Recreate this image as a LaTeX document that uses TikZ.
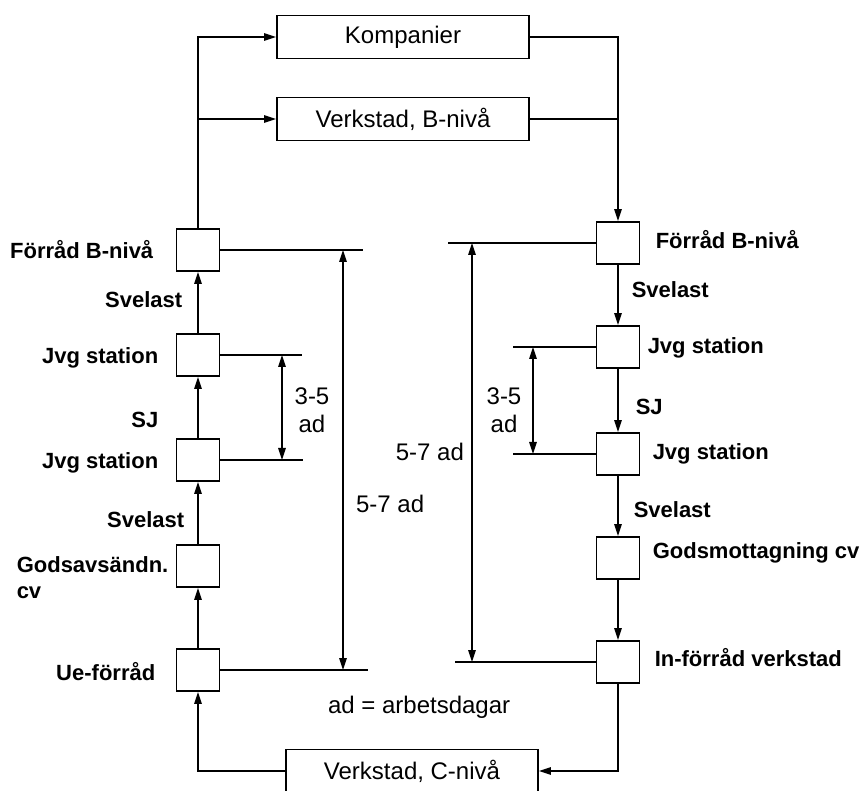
\documentclass[tikz,border=0pt]{standalone}
\usepackage{fontspec}
\setmainfont{Liberation Sans}
\usetikzlibrary{arrows.meta,positioning,calc}

\begin{document}
\begin{tikzpicture}[
  x=1pt,y=-1pt,
  >={Triangle[length=12pt,width=7.5pt]},
  line width=1.5pt,
  every node/.style={font=\fontsize{24}{28}\selectfont},
  unit/.style ={draw,line width=1.9pt,minimum width=252pt,minimum height=43pt,
                inner sep=0pt},
  stock/.style={draw,line width=1.9pt,minimum width=43pt,minimum height=42pt,
                inner sep=0pt},
  lbl/.style  ={font=\fontsize{22}{26}\selectfont\bfseries,inner sep=0pt},
  dim/.style  ={<->,line width=1.3pt}
]
\useasboundingbox (0,0) rectangle (868,791);

% units
\node[unit] (komp)  at (403,37)  {Kompanier};
\node[unit] (verkB) at (403,119) {Verkstad, B-nivå};
\node[unit] (verkC) at (412,771) {Verkstad, C-nivå};

% sending side
\node[stock] (lfb)   at (198,250) {};
\node[stock] (ljvgA) at (198,355) {};
\node[stock] (ljvgB) at (198,460) {};
\node[stock] (lgods) at (198,566) {};
\node[stock] (lue)   at (198,670) {};
% receiving side
\node[stock] (rfb)   at (618,243) {};
\node[stock] (rjvgA) at (618,347) {};
\node[stock] (rjvgB) at (618,454) {};
\node[stock] (rgods) at (618,558) {};
\node[stock] (rin)   at (618,662) {};

% labels
\node[lbl,anchor=east] at (154,250) {Förråd B-nivå};
\node[lbl,anchor=east] at (183,300) {Svelast};
\node[lbl,anchor=east] at (159,358) {Jvg station};
\node[lbl,anchor=east] at (159,420) {SJ};
\node[lbl,anchor=east] at (159,463) {Jvg station};
\node[lbl,anchor=east] at (185,520) {Svelast};
\node[lbl,anchor=west,align=left] at (16,578) {Godsavsändn.\\cv};
\node[lbl,anchor=east] at (156,672) {Ue-förråd};
\node[lbl,anchor=west] at (655,240) {Förråd B-nivå};
\node[lbl,anchor=west] at (631,290) {Svelast};
\node[lbl,anchor=west] at (647,348) {Jvg station};
\node[lbl,anchor=west] at (635,407) {SJ};
\node[lbl,anchor=west] at (652,454) {Jvg station};
\node[lbl,anchor=west] at (633,510) {Svelast};
\node[lbl,anchor=west] at (652,553) {Godsmottagning cv};
\node[lbl,anchor=west] at (654,658) {In-förråd verkstad};

% flows
\draw[->] (lfb.north) |- (komp.west);
\draw[->] (lfb.north |- verkB.west) -- (verkB.west);
\draw[->] (komp.east) -| (rfb.north);
\draw (verkB.east) -- (verkB.east -| rfb.north);
\draw[->] (rfb) -- (rjvgA);
\draw[->] (rjvgA) -- (rjvgB);
\draw[->] (rjvgB) -- (rgods);
\draw[->] (rgods) -- (rin);
\draw[->] (rin.south) |- (verkC.east);
\draw[->] (verkC.west) -| (lue.south);
\draw[->] (lue) -- (lgods);
\draw[->] (lgods) -- (ljvgB);
\draw[->] (ljvgB) -- (ljvgA);
\draw[->] (ljvgA) -- (lfb);

% time marks, left
\coordinate (lfbX)   at (363,250);
\coordinate (ljvgAX) at (302,355);
\coordinate (ljvgBX) at (303,460);
\coordinate (lueX)   at (368,670);
\draw[line width=1.3pt] (lfb.east) -- (lfbX);
\draw[line width=1.3pt] (ljvgA.east) -- (ljvgAX);
\draw[line width=1.3pt] (ljvgB.east) -- (ljvgBX);
\draw[line width=1.3pt] (lue.east) -- (lueX);
\draw[dim] (282,355) coordinate (lsA) -- (282,460) coordinate (lsB);
\draw[dim] (343,250) coordinate (llA) -- (343,670) coordinate (llB);
\node[align=center] (lshort) at (312,410) {3-5\\ad};
\node[anchor=west] (llong) at (352,504) {5-7 ad};

% time marks, right
\coordinate (rfbX)   at (448,243);
\coordinate (rjvgAX) at (513,347);
\coordinate (rjvgBX) at (513,454);
\coordinate (rinX)   at (455,662);
\draw[line width=1.3pt] (rfb.west) -- (rfbX);
\draw[line width=1.3pt] (rjvgA.west) -- (rjvgAX);
\draw[line width=1.3pt] (rjvgB.west) -- (rjvgBX);
\draw[line width=1.3pt] (rin.west) -- (rinX);
\draw[dim] (533,347) coordinate (rsA) -- (533,454) coordinate (rsB);
\draw[dim] (472,243) coordinate (rlA) -- (472,662) coordinate (rlB);
\node[align=center] (rshort) at (504,410) {3-5\\ad};
\node[anchor=east] (rlong) at (468,452) {5-7 ad};

\node[anchor=west] (key) at (324,707) {ad = arbetsdagar};
\end{tikzpicture}
\end{document}
